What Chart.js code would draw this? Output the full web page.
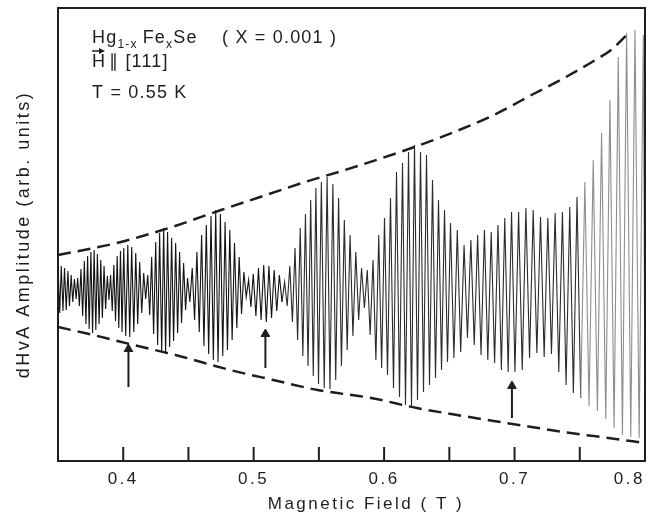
<!DOCTYPE html>
<html>
<head>
<meta charset="utf-8">
<script src="https://cdn.jsdelivr.net/npm/chart.js@4.4.1/dist/chart.umd.min.js"></script>
<style>
  html, body { margin: 0; padding: 0; background: #fff; }
  canvas { display: block; }
</style>
</head>
<body>
<canvas id="dhva-chart" width="651" height="522"></canvas>
<script>
// dHvA trace: field (T) of each turning point of the recorder trace, and its amplitude (arb. units)
var traceField = [
  0.3500, 0.3513, 0.3525, 0.3538, 0.3550, 0.3563, 0.3576, 0.3588, 0.3601, 0.3613,
  0.3626, 0.3639, 0.3651, 0.3664, 0.3676, 0.3689, 0.3702, 0.3714, 0.3727, 0.3739,
  0.3752, 0.3765, 0.3777, 0.3790, 0.3802, 0.3815, 0.3828, 0.3840, 0.3853, 0.3865,
  0.3878, 0.3891, 0.3903, 0.3916, 0.3928, 0.3941, 0.3954, 0.3966, 0.3979, 0.3991,
  0.4004, 0.4019, 0.4035, 0.4050, 0.4065, 0.4081, 0.4096, 0.4111, 0.4126, 0.4142,
  0.4157, 0.4172, 0.4188, 0.4203, 0.4218, 0.4233, 0.4249, 0.4264, 0.4279, 0.4295,
  0.4310, 0.4325, 0.4340, 0.4356, 0.4371, 0.4386, 0.4402, 0.4417, 0.4432, 0.4447,
  0.4463, 0.4478, 0.4493, 0.4511, 0.4529, 0.4547, 0.4565, 0.4583, 0.4601, 0.4619,
  0.4637, 0.4655, 0.4673, 0.4691, 0.4709, 0.4727, 0.4745, 0.4763, 0.4781, 0.4799,
  0.4817, 0.4835, 0.4853, 0.4871, 0.4889, 0.4907, 0.4925, 0.4943, 0.4961, 0.4979,
  0.4997, 0.5017, 0.5037, 0.5057, 0.5077, 0.5097, 0.5117, 0.5137, 0.5157, 0.5177,
  0.5197, 0.5217, 0.5237, 0.5257, 0.5277, 0.5297, 0.5317, 0.5337, 0.5357, 0.5377,
  0.5397, 0.5417, 0.5437, 0.5457, 0.5477, 0.5497, 0.5519, 0.5541, 0.5563, 0.5585,
  0.5607, 0.5629, 0.5651, 0.5673, 0.5695, 0.5717, 0.5739, 0.5761, 0.5783, 0.5805,
  0.5827, 0.5849, 0.5871, 0.5893, 0.5915, 0.5937, 0.5959, 0.5981, 0.6003, 0.6026,
  0.6049, 0.6072, 0.6095, 0.6118, 0.6141, 0.6164, 0.6187, 0.6210, 0.6233, 0.6256,
  0.6279, 0.6302, 0.6325, 0.6348, 0.6371, 0.6394, 0.6417, 0.6440, 0.6463, 0.6486,
  0.6509, 0.6535, 0.6561, 0.6587, 0.6613, 0.6639, 0.6665, 0.6691, 0.6717, 0.6743,
  0.6769, 0.6795, 0.6821, 0.6847, 0.6873, 0.6899, 0.6925, 0.6951, 0.6977, 0.7003,
  0.7031, 0.7059, 0.7087, 0.7115, 0.7143, 0.7171, 0.7199, 0.7227, 0.7255, 0.7283,
  0.7311, 0.7339, 0.7367, 0.7395, 0.7423, 0.7451, 0.7479, 0.7507, 0.7539, 0.7571,
  0.7603, 0.7635, 0.7667, 0.7699, 0.7731, 0.7763, 0.7795, 0.7827, 0.7859, 0.7891,
  0.7923, 0.7955, 0.7987, 0.8000
];
var traceAmp = [
  25, -23, 24, -21, 22, -20, 19, -16, 15, -12,
  11, -9, 12, -16, 21, -26, 29, -34, 34, -39,
  38, -43, 40, -40, 36, -34, 30, -28, 24, -19,
  14, -10, 15, -21, 25, -31, 34, -38, 39, -42,
  42, -46, 45, -47, 43, -42, 37, -34, 28, -23,
  17, -9, 15, -25, 33, -44, 48, -55, 57, -62,
  62, -64, 58, -57, 52, -51, 47, -43, 38, -33,
  27, -20, 12, -12, 22, -30, 38, -42, 55, -56,
  65, -64, 74, -70, 80, -72, 76, -66, 68, -60,
  60, -50, 47, -38, 33, -24, 18, -7, 10, -17,
  16, -26, 22, -30, 25, -32, 24, -28, 20, -21,
  15, -12, 8, -16, 24, -32, 42, -50, 62, -66,
  76, -76, 90, -86, 102, -94, 108, -98, 113, -99,
  106, -90, 92, -76, 70, -60, 55, -46, 38, -30,
  22, -18, 20, -45, 30, -70, 55, -78, 72, -85,
  92, -98, 118, -107, 127, -115, 138, -117, 145, -110,
  138, -102, 135, -95, 110, -88, 90, -80, 80, -72,
  67, -68, 60, -62, 45, -48, 50, -55, 55, -65,
  60, -70, 58, -73, 65, -80, 72, -82, 78, -82,
  78, -80, 82, -68, 80, -63, 73, -67, 72, -64,
  77, -82, 78, -95, 83, -103, 93, -108, 108, -116,
  130, -121, 157, -129, 190, -138, 233, -145, 257, -147,
  260, -148, 255, -147
];

// dashed envelopes
var upperField = [0.350, 0.395, 0.435, 0.475, 0.505, 0.537, 0.570, 0.610, 0.642, 0.684, 0.713, 0.738, 0.762, 0.774, 0.786];
var upperAmp   = [35, 47, 62, 80, 93, 107, 120, 137, 152, 175, 195, 212, 230, 240, 255];
var lowerField = [0.350, 0.377, 0.408, 0.440, 0.482, 0.515, 0.549, 0.590, 0.625, 0.656, 0.684, 0.713, 0.743, 0.772, 0.800];
var lowerAmp   = [-37, -45, -55, -65, -80, -90, -100, -108, -118, -125, -131, -137, -143, -148, -153];

// arrows under the beat nodes
var arrowField = [0.404, 0.509, 0.698];
var arrowHead  = [-59, -44, -96];
var arrowTail  = [-97, -78, -128];

var fontFam = "'Liberation Sans', Arial, sans-serif";
var ink = '#1e1e1e';

function pairs(xs, ys) {
	var out = [];
	for (var i = 0; i < xs.length; i++) {
		out.push({ x: xs[i], y: ys[i] });
	}
	return out;
}

var datasets = [];
datasets.push({
	data: pairs(traceField, traceAmp),
	borderColor: '#161616',
	borderWidth: 1.1,
	pointRadius: 0,
	tension: 0,
	segment: {
		borderColor: function(c) {
			var f = c.p0.parsed.x;
			if (f >= 0.748) return '#8e8e8e';
			if (f >= 0.52) return '#2c2c2c';
			return '#141414';
		}
	}
});
datasets.push({
	data: pairs(upperField, upperAmp),
	borderColor: ink,
	borderWidth: 2.5,
	borderDash: [13, 7],
	pointRadius: 0,
	cubicInterpolationMode: 'monotone'
});
datasets.push({
	data: pairs(lowerField, lowerAmp),
	borderColor: ink,
	borderWidth: 2.5,
	borderDash: [13, 7],
	pointRadius: 0,
	cubicInterpolationMode: 'monotone'
});
for (var i = 0; i < arrowField.length; i++) {
	datasets.push({
		data: [{ x: arrowField[i], y: arrowTail[i] }, { x: arrowField[i], y: arrowHead[i] }],
		borderColor: ink,
		borderWidth: 2,
		pointRadius: [0, 5],
		pointStyle: 'triangle',
		pointBackgroundColor: ink,
		pointBorderColor: ink,
		pointBorderWidth: 1
	});
}

// box, inward ticks and the text block
var framePlugin = {
	id: 'frame',
	beforeDraw: function(chart) {
		chart.ctx.letterSpacing = '2.5px';
	},
	afterDraw: function(chart) {
		var ctx = chart.ctx;
		var a = chart.chartArea;
		var xs = chart.scales.x;
		ctx.save();
		ctx.strokeStyle = ink;
		ctx.lineWidth = 2;
		ctx.beginPath();
		ctx.moveTo(a.left, a.top);
		ctx.lineTo(a.right, a.top);
		ctx.lineTo(a.right, a.bottom);
		ctx.lineTo(a.left, a.bottom);
		ctx.closePath();
		ctx.stroke();
		xs.ticks.forEach(function(t) {
			var px = xs.getPixelForValue(t.value);
			if (px < a.left + 3 || px > a.right - 3) return;
			ctx.beginPath();
			ctx.moveTo(px, a.bottom);
			ctx.lineTo(px, a.bottom - 14);
			ctx.stroke();
		});

		ctx.fillStyle = ink;
		ctx.letterSpacing = '1.2px';
		ctx.textBaseline = 'alphabetic';
		var big = '18px ' + fontFam;
		var small = '12px ' + fontFam;
		var x = a.left + 34;
		var y = a.top + 35;
		function put(txt, f, dy) {
			ctx.font = f;
			ctx.fillText(txt, x, y + dy);
			x += ctx.measureText(txt).width;
		}
		put('Hg', big, 0);
		put('1-x', small, 5);
		x += 5;
		put('Fe', big, 0);
		put('x', small, 5);
		put('Se', big, 0);
		ctx.font = big;
		ctx.fillText('( X = 0.001 )', a.left + 164, y);

		y = a.top + 59;
		ctx.fillText('H', a.left + 34, y);
		ctx.lineWidth = 1.5;
		ctx.beginPath();
		ctx.moveTo(a.left + 34, a.top + 43);
		ctx.lineTo(a.left + 45, a.top + 43);
		ctx.stroke();
		ctx.beginPath();
		ctx.moveTo(a.left + 47, a.top + 43);
		ctx.lineTo(a.left + 41, a.top + 40);
		ctx.lineTo(a.left + 41, a.top + 46);
		ctx.closePath();
		ctx.fill();
		ctx.fillText('\u2225 [111]', a.left + 51, y);

		ctx.fillText('T = 0.55 K', a.left + 34, a.top + 90);
		ctx.restore();
	}
};

var ctx = document.getElementById('dhva-chart').getContext('2d');
var chart = new Chart(ctx, {
	type: 'line',
	data: { datasets: datasets },
	options: {
		responsive: false,
		animation: false,
		devicePixelRatio: 1,
		events: [],
		layout: { padding: { top: 8, right: 2, bottom: 0, left: 0 } },
		plugins: {
			legend: { display: false },
			tooltip: { enabled: false }
		},
		scales: {
			x: {
				type: 'linear',
				min: 0.35,
				max: 0.80,
				grid: { display: false, drawTicks: false },
				border: { display: false },
				ticks: {
					stepSize: 0.05,
					autoSkip: false,
					maxRotation: 0,
					align: 'inner',
					padding: 8,
					color: ink,
					font: { family: fontFam, size: 17 },
					callback: function(v) {
						var r = Math.round(v * 100);
						return r % 10 === 0 ? (r / 100).toFixed(1) : '';
					}
				},
				title: {
					display: true,
					text: '    Magnetic Field ( T )',
					color: ink,
					font: { family: fontFam, size: 17 },
					padding: { top: 0, bottom: 7 }
				},
				afterFit: function(scale) {
					scale.height = 61;
					scale.paddingLeft = 0;
					scale.paddingRight = 0;
				}
			},
			y: {
				type: 'linear',
				min: -171,
				max: 282,
				grid: { display: false, drawTicks: false },
				border: { display: false },
				ticks: { display: false },
				title: {
					display: true,
					text: 'dHvA Amplitude (arb. units)',
					color: ink,
					font: { family: fontFam, size: 18 },
					padding: { top: 13, bottom: 0 }
				},
				afterFit: function(scale) { scale.width = 58; }
			}
		}
	},
	plugins: [framePlugin]
});
</script>
</body>
</html>
